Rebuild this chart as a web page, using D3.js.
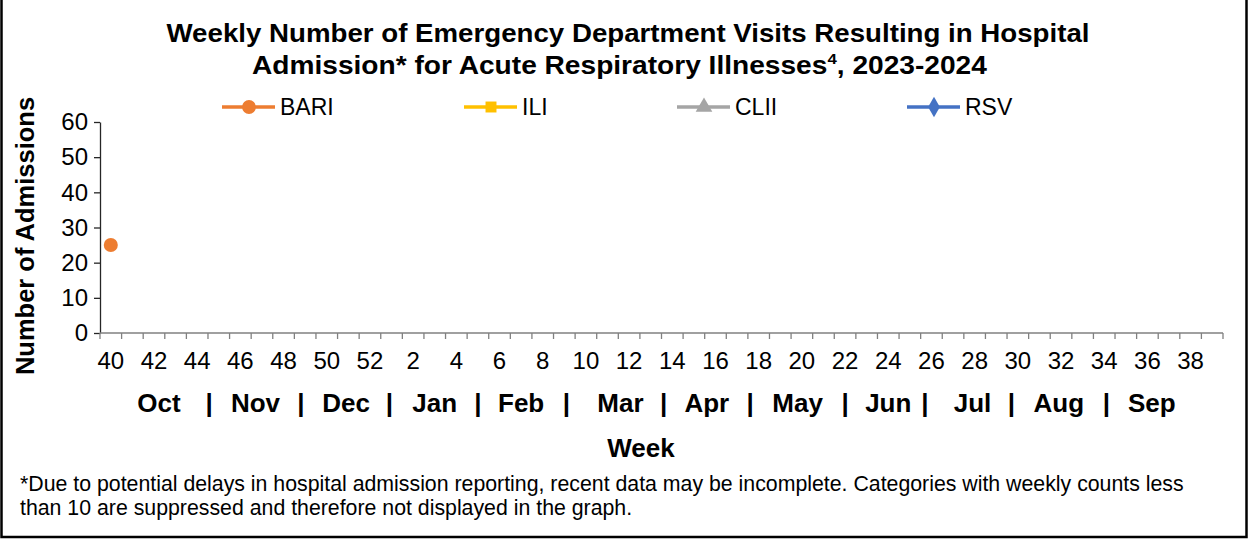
<!DOCTYPE html>
<html>
<head>
<meta charset="utf-8">
<script src="https://cdn.jsdelivr.net/npm/d3@7"></script>
<style>
  body { margin: 0; background: #fff; }
  svg { display: block; font-family: Arial, "Liberation Sans", sans-serif; }
</style>
</head>
<body>
<svg width="1249" height="540"></svg>
<script>
// week numbers of the 2023-2024 season, oct to sep
var weeks = [40, 41, 42, 43, 44, 45, 46, 47, 48, 49, 50, 51, 52,
  1, 2, 3, 4, 5, 6, 7, 8, 9, 10, 11, 12, 13, 14, 15, 16, 17, 18, 19, 20,
  21, 22, 23, 24, 25, 26, 27, 28, 29, 30, 31, 32, 33, 34, 35, 36, 37, 38, 39];
var yTicks = [0, 10, 20, 30, 40, 50, 60];
var months = ["Oct", "Nov", "Dec", "Jan", "Feb", "Mar", "Apr", "May", "Jun", "Jul", "Aug", "Sep"];

// counts per week (only the weeks reported so far, <10 suppressed)
var bari = [25];
var ili = [];
var clii = [];
var rsv = [];

var series = [
  { name: "BARI", values: bari, color: "#ED7D31", shape: d3.symbolCircle },
  { name: "ILI", values: ili, color: "#FFC000", shape: d3.symbolSquare },
  { name: "CLII", values: clii, color: "#A5A5A5", shape: d3.symbolTriangle },
  { name: "RSV", values: rsv, color: "#4472C4", shape: d3.symbolDiamond }
];

// where the month names and the | separators sit, in week-slot units
var monthSlot = [2.73, 7.2, 11.4, 15.5, 19.5, 24.1, 28.1, 32.3, 36.5, 40.4, 44.4, 48.7];
var pipeSlot = [5.05, 9.3, 13.4, 17.5, 21.6, 26.1, 30.1, 34.5, 38.2, 42.2, 46.6];

var svg = d3.select("svg");
var plot = { left: 100, right: 1223, top: 122, bottom: 333 };

var x = d3.scaleBand()
  .domain(d3.range(weeks.length))
  .range([plot.left, plot.right])
  .paddingInner(0);
var xs = d3.scaleLinear().domain([0, weeks.length]).range([plot.left, plot.right]);
var y = d3.scaleLinear().domain([0, 60]).range([plot.bottom, plot.top]);

// outer frame (top is cut off in the picture)
svg.append("rect")
  .attr("x", 1.5).attr("y", -3)
  .attr("width", 1245).attr("height", 540)
  .attr("fill", "none").attr("stroke", "#000").attr("stroke-width", 2.5);

// title
var title = svg.append("text")
  .attr("text-anchor", "middle")
  .attr("font-weight", "bold")
  .attr("font-size", 25);
title.append("tspan").attr("x", 628).attr("y", 42)
  .attr("textLength", 923).attr("lengthAdjust", "spacingAndGlyphs")
  .text("Weekly Number of Emergency Department Visits Resulting in Hospital");
var t2 = svg.append("text")
  .attr("x", 252).attr("y", 74)
  .attr("font-weight", "bold")
  .attr("font-size", 25)
  .attr("transform", "translate(252,0) scale(1.125,1) translate(-252,0)");
t2.append("tspan").text("Admission* for Acute Respiratory Illnesses");
t2.append("tspan").attr("font-size", 15).attr("dy", -10).text("4");
t2.append("tspan").attr("dy", 10).text(", 2023-2024");

// legend
var legendX = [222, 464, 677, 907];
var leg = svg.selectAll("g.leg").data(series).enter().append("g")
  .attr("class", "leg")
  .attr("transform", function(d, i) { return "translate(" + legendX[i] + ",107)"; });
leg.append("line")
  .attr("x1", 0).attr("x2", 53)
  .attr("stroke", function(d) { return d.color; })
  .attr("stroke-width", 3.5);
leg.append("path")
  .attr("transform", "translate(27,0)")
  .attr("d", function(d) { return d3.symbol().type(d.shape).size(d.shape === d3.symbolCircle ? 150 : 120)(); })
  .attr("fill", function(d) { return d.color; });
leg.append("text")
  .attr("x", 58).attr("y", 8)
  .attr("font-size", 23)
  .text(function(d) { return d.name; });

// y axis
var yAxis = svg.append("g")
  .attr("transform", "translate(" + plot.left + ",0)")
  .call(d3.axisLeft(y).tickValues(yTicks).tickSize(6).tickPadding(6).tickSizeOuter(0));
yAxis.select(".domain").attr("stroke", "#262626").attr("stroke-width", 1.3);
yAxis.selectAll(".tick line").attr("stroke", "#262626").attr("stroke-width", 1.3);
yAxis.selectAll("text").attr("font-size", 24).attr("fill", "#000")
  .attr("font-family", "Arial, 'Liberation Sans', sans-serif");

// x axis: tick marks between categories, labels every other week
var xg = svg.append("g");
xg.append("line")
  .attr("x1", plot.left).attr("x2", plot.right)
  .attr("y1", plot.bottom).attr("y2", plot.bottom)
  .attr("stroke", "#808080").attr("stroke-width", 1.3);
var bounds = d3.range(weeks.length).map(function(i) { return x(i); }).concat([plot.right]);
xg.selectAll("line.tk").data(bounds).enter().append("line")
  .attr("class", "tk")
  .attr("x1", function(d) { return d; }).attr("x2", function(d) { return d; })
  .attr("y1", plot.bottom).attr("y2", plot.bottom + 6)
  .attr("stroke", "#808080").attr("stroke-width", 1.3);
xg.selectAll("text").data(weeks.filter(function(d, i) { return i % 2 === 0; })).enter().append("text")
  .attr("x", function(d, i) { return x(i * 2) + x.bandwidth() / 2; })
  .attr("y", 369)
  .attr("text-anchor", "middle")
  .attr("font-size", 24)
  .text(function(d) { return d; });

// month row
var mrow = svg.append("g").attr("font-weight", "bold").attr("font-size", 26).attr("text-anchor", "middle");
mrow.selectAll("text.m").data(months).enter().append("text")
  .attr("class", "m")
  .attr("x", function(d, i) { return xs(monthSlot[i]); })
  .attr("y", 412)
  .text(function(d) { return d; });
mrow.selectAll("text.p").data(pipeSlot).enter().append("text")
  .attr("class", "p")
  .attr("x", function(d) { return xs(d); })
  .attr("y", 412)
  .text("|");

// axis titles
svg.append("text")
  .attr("x", 641).attr("y", 457)
  .attr("text-anchor", "middle")
  .attr("font-weight", "bold")
  .attr("font-size", 26)
  .text("Week");
svg.append("text")
  .attr("transform", "translate(34,236) rotate(-90)")
  .attr("text-anchor", "middle")
  .attr("font-weight", "bold")
  .attr("font-size", 25.5)
  .text("Number of Admissions");

// footnote
var foot = svg.append("text").attr("font-size", 21.3);
foot.append("tspan").attr("x", 20).attr("y", 491)
  .text("*Due to potential delays in hospital admission reporting, recent data may be incomplete. Categories with weekly counts less");
foot.append("tspan").attr("x", 20).attr("y", 515)
  .text("than 10 are suppressed and therefore not displayed in the graph.");

// series lines + markers
series.forEach(function(s) {
  var pts = s.values.map(function(v, i) { return { i: i, v: v }; })
    .filter(function(p) { return p.v != null; });
  var line = d3.line()
    .x(function(p) { return x(p.i) + x.bandwidth() / 2; })
    .y(function(p) { return y(p.v); });
  svg.append("path").datum(pts)
    .attr("d", line)
    .attr("fill", "none").attr("stroke", s.color).attr("stroke-width", 3.5);
  svg.selectAll(null).data(pts).enter().append("path")
    .attr("transform", function(p) { return "translate(" + (x(p.i) + x.bandwidth() / 2) + "," + y(p.v) + ")"; })
    .attr("d", d3.symbol().type(s.shape).size(155)())
    .attr("fill", s.color);
});
</script>
</body>
</html>
